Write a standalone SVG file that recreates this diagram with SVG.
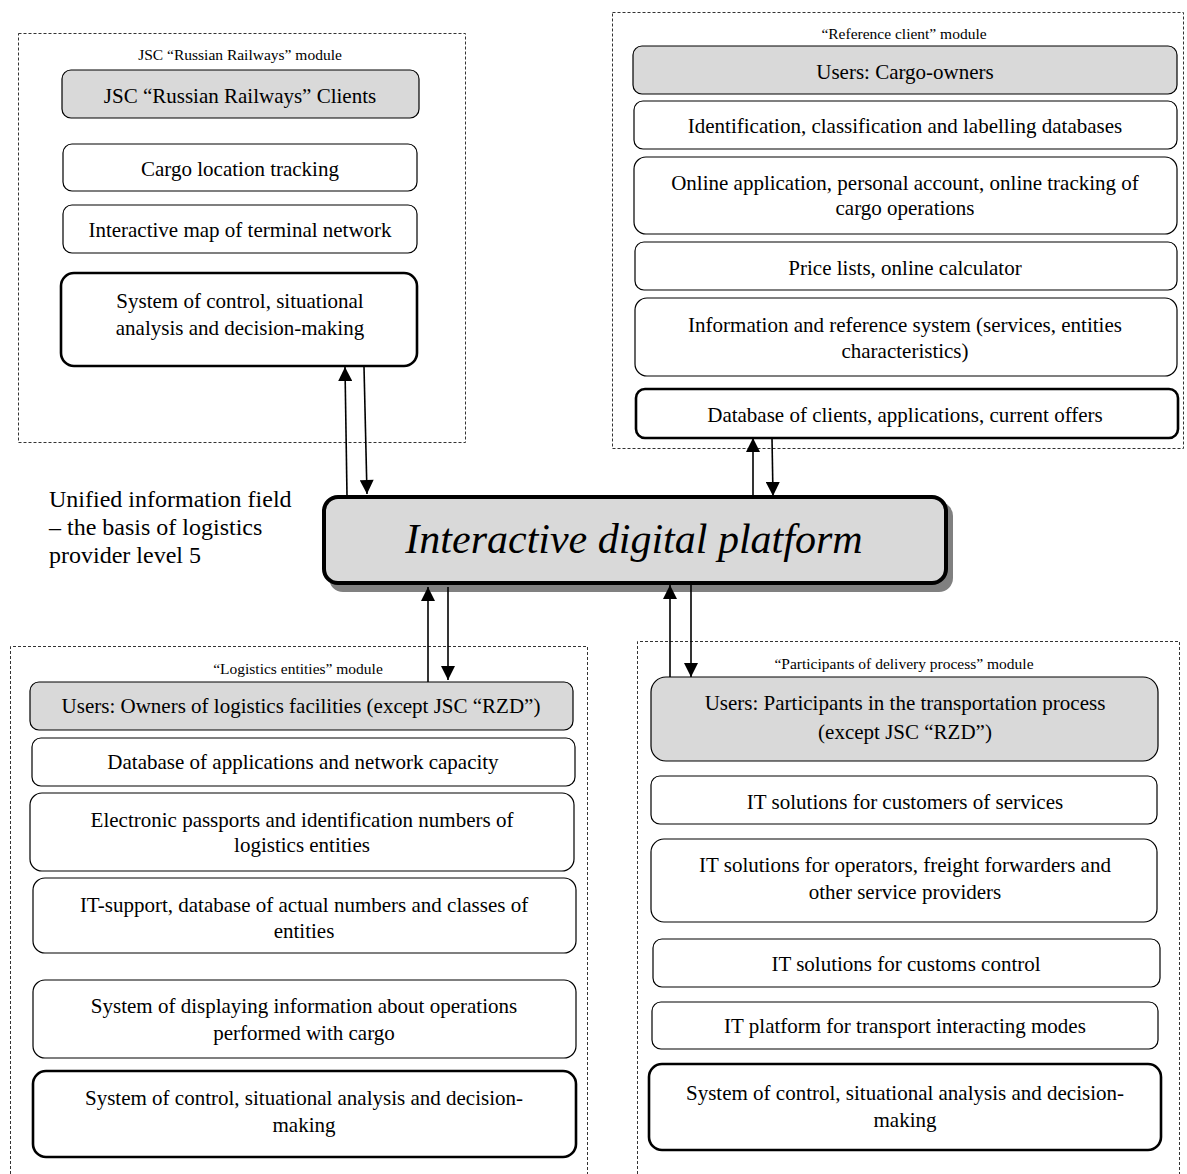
<svg xmlns="http://www.w3.org/2000/svg" width="1187" height="1174" viewBox="0 0 1187 1174">
<style>
text{font-family:"Liberation Serif","Times New Roman",serif;fill:#000;text-anchor:middle}
.t{font-size:21px}
.mt{font-size:15.5px}
.box{fill:#fff;stroke:#000;stroke-width:1.2}
.gray{fill:#d9d9d9;stroke:#000;stroke-width:1.2}
.thick{fill:#fff;stroke:#000;stroke-width:2.6}
.mod{fill:none;stroke:#333;stroke-width:1;stroke-dasharray:3 2}
.con{stroke:#000;stroke-width:1.6;fill:none;marker-end:url(#ah)}
</style>
<defs>
<marker id="ah" viewBox="0 0 10 10" refX="10" refY="5" markerWidth="15" markerHeight="14" markerUnits="userSpaceOnUse" orient="auto">
<path d="M0,0 L10,5 L0,10 z" fill="#000"/>
</marker>
</defs>
<rect width="1187" height="1174" fill="#fff"/>

<g id="module-rzd">
<rect class="mod" x="18.5" y="33.5" width="447" height="409"/>
<text class="mt" x="240" y="60">JSC “Russian Railways” module</text>
</g>
<g id="rzd-clients"><rect class="gray" x="62" y="70" width="357" height="48" rx="9"/><text class="t" x="240" y="103">JSC “Russian Railways” Clients</text></g>
<g id="rzd-tracking"><rect class="box" x="63" y="144" width="354" height="47" rx="9"/><text class="t" x="240" y="176">Cargo location tracking</text></g>
<g id="rzd-map"><rect class="box" x="63" y="205" width="354" height="48" rx="9"/><text class="t" x="240" y="237">Interactive map of terminal network</text></g>
<g id="rzd-control"><rect class="thick" x="61" y="273" width="356" height="93" rx="13"/><text class="t" x="240" y="308">System of control, situational</text><text class="t" x="240" y="335">analysis and decision-making</text></g>

<g id="module-ref">
<rect class="mod" x="612.5" y="12.5" width="571" height="436"/>
<text class="mt" x="904" y="39">“Reference client” module</text>
</g>
<g id="ref-users"><rect class="gray" x="633" y="46" width="544" height="48" rx="9"/><text class="t" x="905" y="79">Users: Cargo-owners</text></g>
<g id="ref-ident"><rect class="box" x="634" y="101" width="543" height="48" rx="9"/><text class="t" x="905" y="133">Identification, classification and labelling databases</text></g>
<g id="ref-online"><rect class="box" x="634" y="157" width="543" height="77" rx="12"/><text class="t" x="905" y="190">Online application, personal account, online tracking of</text><text class="t" x="905" y="215">cargo operations</text></g>
<g id="ref-price"><rect class="box" x="635" y="242" width="542" height="48" rx="9"/><text class="t" x="905" y="275">Price lists, online calculator</text></g>
<g id="ref-info"><rect class="box" x="635" y="298" width="542" height="78" rx="12"/><text class="t" x="905" y="332">Information and reference system (services, entities</text><text class="t" x="905" y="358">characteristics)</text></g>
<g id="ref-db"><rect class="thick" x="636" y="389" width="542" height="49" rx="9"/><text class="t" x="905" y="422">Database of clients, applications, current offers</text></g>

<g id="caption"><text x="49" y="507" style="font-size:24px;text-anchor:start">Unified information field</text><text x="49" y="535" style="font-size:24px;text-anchor:start">– the basis of logistics</text><text x="49" y="563" style="font-size:24px;text-anchor:start">provider level 5</text></g>

<g id="platform">
<rect x="329" y="502" width="624" height="90" rx="14" fill="#808080"/>
<rect x="324" y="497" width="622" height="86" rx="14" fill="#d9d9d9" stroke="#000" stroke-width="4"/>
<text x="634" y="553" style="font-size:42px;font-style:italic">Interactive digital platform</text>
</g>

<g id="module-log">
<path class="mod" d="M10.5,1174 V646.5 H587.5 V1174"/>
<text class="mt" x="298" y="674">“Logistics entities” module</text>
</g>
<g id="log-users"><rect class="gray" x="30" y="682" width="543" height="48" rx="9"/><text class="t" x="301" y="713">Users: Owners of logistics facilities (except JSC “RZD”)</text></g>
<g id="log-db"><rect class="box" x="32" y="738" width="543" height="48" rx="9"/><text class="t" x="303" y="769">Database of applications and network capacity</text></g>
<g id="log-passports"><rect class="box" x="30" y="793" width="544" height="78" rx="12"/><text class="t" x="302" y="827">Electronic passports and identification numbers of</text><text class="t" x="302" y="852">logistics entities</text></g>
<g id="log-it"><rect class="box" x="33" y="878" width="543" height="75" rx="12"/><text class="t" x="304" y="912">IT-support, database of actual numbers and classes of</text><text class="t" x="304" y="938">entities</text></g>
<g id="log-display"><rect class="box" x="33" y="980" width="543" height="78" rx="12"/><text class="t" x="304" y="1013">System of displaying information about operations</text><text class="t" x="304" y="1040">performed with cargo</text></g>
<g id="log-control"><rect class="thick" x="33" y="1071" width="543" height="86" rx="13"/><text class="t" x="304" y="1105">System of control, situational analysis and decision-</text><text class="t" x="304" y="1132">making</text></g>

<g id="module-part">
<path class="mod" d="M637.5,1174 V641.5 H1179.5 V1174"/>
<text class="mt" x="904" y="669">“Participants of delivery process” module</text>
</g>
<g id="part-users"><rect class="gray" x="651" y="677" width="507" height="84" rx="15"/><text class="t" x="905" y="710">Users: Participants in the transportation process</text><text class="t" x="905" y="739">(except JSC “RZD”)</text></g>
<g id="part-customers"><rect class="box" x="651" y="776" width="506" height="48" rx="9"/><text class="t" x="905" y="809">IT solutions for customers of services</text></g>
<g id="part-operators"><rect class="box" x="651" y="839" width="506" height="83" rx="13"/><text class="t" x="905" y="872">IT solutions for operators, freight forwarders and</text><text class="t" x="905" y="899">other service providers</text></g>
<g id="part-customs"><rect class="box" x="653" y="939" width="507" height="48" rx="9"/><text class="t" x="906" y="971">IT solutions for customs control</text></g>
<g id="part-platform"><rect class="box" x="652" y="1002" width="506" height="47" rx="9"/><text class="t" x="905" y="1033">IT platform for transport interacting modes</text></g>
<g id="part-control"><rect class="thick" x="649" y="1064" width="512" height="86" rx="13"/><text class="t" x="905" y="1100">System of control, situational analysis and decision-</text><text class="t" x="905" y="1127">making</text></g>

<g id="connectors">
<path class="con" d="M347,496 L345,367"/>
<path class="con" d="M364,367 L367,494"/>
<path class="con" d="M753,496 L753,438"/>
<path class="con" d="M772,438 L773,496"/>
<path class="con" d="M428,682 L428,587"/>
<path class="con" d="M448,587 L448,680"/>
<path class="con" d="M670,677 L670,585"/>
<path class="con" d="M691,585 L691,677"/>
</g>
</svg>
